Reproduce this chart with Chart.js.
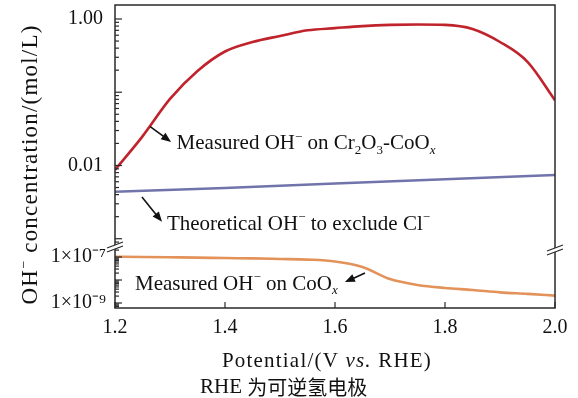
<!DOCTYPE html>
<html>
<head>
<meta charset="utf-8">
<script src="https://cdn.jsdelivr.net/npm/chart.js@4"></script>
<style>
html, body { margin: 0; padding: 0; background: #fff; }
#wrap { width: 578px; height: 398px; }
</style>
</head>
<body>
<div id="wrap"><canvas id="myChart" width="578" height="398"></canvas></div>
<script>
// potentials (V vs. RHE)
const potential = [1.20, 1.25, 1.30, 1.35, 1.40, 1.45, 1.50, 1.55, 1.60, 1.65, 1.70, 1.75, 1.80, 1.85, 1.90, 1.95, 2.00];
// measured OH- on Cr2O3-CoOx (mol/L)
const ohCrCo = [0.0087, 0.025, 0.081, 0.195, 0.36, 0.485, 0.586, 0.70, 0.75, 0.80, 0.83, 0.84, 0.83, 0.73, 0.485, 0.26, 0.078];
// theoretical OH- to exclude Cl-
const theoryPotential = [1.2, 1.4, 1.6, 1.8, 2.0];
const ohTheory = [0.00438, 0.00493, 0.00567, 0.00649, 0.0074];
// measured OH- on CoOx
const ohCo = [1.03e-7, 1.0e-7, 9.7e-8, 9.4e-8, 9.0e-8, 8.7e-8, 8.2e-8, 7.7e-8, 6.4e-8, 3.7e-8, 1.1e-8, 6.1e-9, 4.5e-9, 3.7e-9, 2.9e-9, 2.5e-9, 2.1e-9];

const xTicks = [1.2, 1.4, 1.6, 1.8, 2.0];
const topTicks = [0.01, 1];
const topLabels = ['0.01', '1.00'];
const botTicks = [1e-9, 1e-7];
const botLabels = ['1×10⁻⁹', '1×10⁻⁷'];

const SERIF = '"Liberation Serif", "Times New Roman", serif';

const notes = [
  {parts: [['Measured OH', ''], ['−', 'sup'], [' on Cr', ''], ['2', 'sub'], ['O', ''], ['3', 'sub'], ['-CoO', ''], ['x', 'subi']],
   axis: 'yTop', at: [1.312, 0.0205], from: [1.264, 0.034], to: [1.302, 0.021]},
  {parts: [['Theoretical OH', ''], ['−', 'sup'], [' to exclude Cl', ''], ['−', 'sup']],
   axis: 'yTop', at: [1.2945, 0.00164], from: [1.249, 0.0037], to: [1.2855, 0.0017]},
  {parts: [['Measured OH', ''], ['−', 'sup'], [' on CoO', ''], ['x', 'subi']],
   axis: 'yBot', at: [1.2364, 7.4e-9], from: [1.6545, 2.0e-8], to: [1.618, 8.1e-9]}
];

function setFont(ctx, kind, size) {
  const small = kind === 'sup' || kind === 'sub' || kind === 'subi';
  const italic = kind === 'i' || kind === 'subi';
  ctx.font = (italic ? 'italic ' : '') + (small ? size * 0.62 : size) + 'px ' + SERIF;
}

function drawRich(ctx, parts, x, y, size, align) {
  let w = 0;
  parts.forEach(p => { setFont(ctx, p[1], size); w += ctx.measureText(p[0]).width; });
  let cx = align === 'center' ? x - w / 2 : x;
  const base = y + size * 0.32;
  ctx.textBaseline = 'alphabetic';
  ctx.textAlign = 'left';
  parts.forEach(p => {
    setFont(ctx, p[1], size);
    let dy = 0;
    if (p[1] === 'sup') dy = -size * 0.4;
    if (p[1] === 'sub' || p[1] === 'subi') dy = size * 0.2;
    ctx.fillText(p[0], cx, base + dy);
    cx += ctx.measureText(p[0]).width;
  });
}

function arrow(ctx, x0, y0, x1, y1) {
  const ang = Math.atan2(y1 - y0, x1 - x0);
  ctx.beginPath();
  ctx.moveTo(x0, y0);
  ctx.lineTo(x1 - 6 * Math.cos(ang), y1 - 6 * Math.sin(ang));
  ctx.stroke();
  ctx.beginPath();
  ctx.moveTo(x1, y1);
  ctx.lineTo(x1 - 10 * Math.cos(ang) + 4 * Math.sin(ang), y1 - 10 * Math.sin(ang) - 4 * Math.cos(ang));
  ctx.lineTo(x1 - 10 * Math.cos(ang) - 4 * Math.sin(ang), y1 - 10 * Math.sin(ang) + 4 * Math.cos(ang));
  ctx.closePath();
  ctx.fill();
}

function logTicks(ctx, scale, x) {
  const lo = Math.floor(Math.log10(scale.min)), hi = Math.ceil(Math.log10(scale.max));
  for (let d = lo; d <= hi; d++) {
    for (let m = 1; m <= 9; m++) {
      const v = m * Math.pow(10, d);
      if (v < scale.min || v > scale.max) continue;
      const py = scale.getPixelForValue(v);
      ctx.beginPath();
      ctx.moveTo(x, py);
      ctx.lineTo(x + (m === 1 ? 7 : 4), py);
      ctx.stroke();
    }
  }
}

function breakMark(ctx, x, y) {
  ctx.save();
  ctx.fillStyle = '#fff';
  ctx.beginPath();
  ctx.moveTo(x - 8, y + 1); ctx.lineTo(x + 8, y - 5); ctx.lineTo(x + 8, y - 1); ctx.lineTo(x - 8, y + 5);
  ctx.closePath();
  ctx.fill();
  ctx.beginPath();
  ctx.moveTo(x - 8, y + 1); ctx.lineTo(x + 8, y - 5);
  ctx.moveTo(x - 8, y + 5); ctx.lineTo(x + 8, y - 1);
  ctx.stroke();
  ctx.restore();
}

const decor = {
  id: 'decor',
  afterDraw(chart) {
    const {ctx, chartArea: a, scales} = chart;
    ctx.save();
    ctx.strokeStyle = '#2a2a2a';
    ctx.fillStyle = '#111';
    ctx.lineWidth = 1.5;
    ctx.strokeRect(a.left, a.top, a.right - a.left, a.bottom - a.top);
    ctx.lineWidth = 1.2;
    logTicks(ctx, scales.yTop, a.left);
    logTicks(ctx, scales.yBot, a.left);
    xTicks.forEach(v => {
      const px = scales.x.getPixelForValue(v);
      ctx.beginPath();
      ctx.moveTo(px, a.bottom);
      ctx.lineTo(px, a.bottom - 6);
      ctx.stroke();
    });
    const yb = scales.yBot.top;
    ctx.lineWidth = 1.3;
    breakMark(ctx, a.left, yb);
    breakMark(ctx, a.right, yb + 3);

    // annotations
    ctx.lineWidth = 1.6;
    ctx.strokeStyle = '#111';
    notes.forEach(n => {
      const ys = scales[n.axis];
      arrow(ctx, scales.x.getPixelForValue(n.from[0]), ys.getPixelForValue(n.from[1]),
        scales.x.getPixelForValue(n.to[0]), ys.getPixelForValue(n.to[1]));
      drawRich(ctx, n.parts, scales.x.getPixelForValue(n.at[0]), ys.getPixelForValue(n.at[1]), 21, 'left');
    });

    // axis titles
    ctx.letterSpacing = '1.2px';
    drawRich(ctx, [['Potential/(V ', ''], ['vs.', 'i'], [' RHE)', '']], a.left + 212, 360, 21, 'center');
    ctx.save();
    ctx.translate(30, (a.top + a.bottom) / 2 + 8);
    ctx.rotate(-Math.PI / 2);
    drawRich(ctx, [['OH', ''], ['−', 'sup'], [' concentration/(mol/L)', '']], 0, 0, 23, 'center');
    ctx.restore();
    ctx.letterSpacing = '0px';
    ctx.font = '21px ' + SERIF;
    ctx.textAlign = 'left';
    ctx.textBaseline = 'middle';
    ctx.fillText('RHE ', 200, 387);
    const w = ctx.measureText('RHE ').width;
    ctx.font = '20px "Noto Sans CJK SC", sans-serif';
    ctx.fillText('为可逆氢电极', 200 + w, 387);
    ctx.restore();
  }
};

const tickFont = {family: SERIF, size: 20};

// fixed box sizes so the plot area matches the figure
function fitY(s) { s.width = 115; s.paddingTop = 0; s.paddingBottom = 0; }

const config = {
  type: 'line',
  data: {
    datasets: [
      {data: potential.map((p, i) => ({x: p, y: ohCrCo[i]})), yAxisID: 'yTop', borderColor: '#c0232c'},
      {data: theoryPotential.map((p, i) => ({x: p, y: ohTheory[i]})), yAxisID: 'yTop', borderColor: '#7174aa', cubicInterpolationMode: 'default', tension: 0},
      {data: potential.map((p, i) => ({x: p, y: ohCo[i]})), yAxisID: 'yBot', borderColor: '#e3935a'}
    ]
  },
  options: {
    responsive: false,
    animation: false,
    layout: {padding: {top: 5, right: 23, left: 0, bottom: 0}},
    plugins: {legend: {display: false}, tooltip: {enabled: false}},
    elements: {
      point: {radius: 0},
      line: {borderWidth: 2.6, cubicInterpolationMode: 'monotone'}
    },
    scales: {
      x: {
        type: 'linear', position: 'bottom', min: 1.2, max: 2.0,
        afterBuildTicks: s => { s.ticks = xTicks.map(v => ({value: v})); },
        ticks: {callback: v => v.toFixed(1), font: tickFont, color: '#111', padding: 8, maxRotation: 0},
        grid: {display: false, drawTicks: false},
        border: {display: false},
        afterFit: s => { s.height = 90; s.paddingLeft = 0; s.paddingRight = 0; }
      },
      // defined first so the layout places it below yTop in the shared stack
      yBot: {
        type: 'logarithmic', position: 'left', stack: 'y', stackWeight: 61,
        min: Math.pow(10, -9.217), max: Math.pow(10, -6.565),
        afterBuildTicks: s => { s.ticks = botTicks.map(v => ({value: v})); },
        ticks: {callback: v => botLabels[botTicks.indexOf(v)], font: tickFont, color: '#111', padding: 9},
        grid: {display: false, drawTicks: false},
        border: {display: false},
        afterFit: fitY
      },
      yTop: {
        type: 'logarithmic', position: 'left', stack: 'y', stackWeight: 242,
        min: Math.pow(10, -3.113), max: Math.pow(10, 0.191),
        afterBuildTicks: s => { s.ticks = topTicks.map(v => ({value: v})); },
        ticks: {callback: v => topLabels[topTicks.indexOf(v)], font: tickFont, color: '#111', padding: 12},
        grid: {display: false, drawTicks: false},
        border: {display: false},
        afterFit: fitY
      }
    }
  },
  plugins: [decor]
};

const myChart = new Chart(document.getElementById('myChart'), config);
</script>
</body>
</html>
